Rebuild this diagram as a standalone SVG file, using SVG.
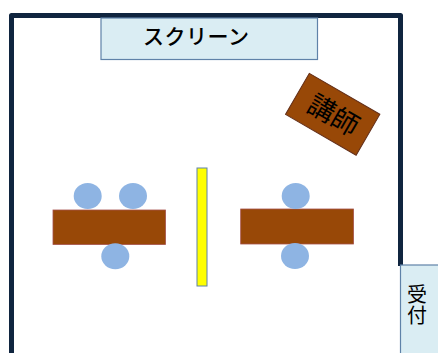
<svg xmlns="http://www.w3.org/2000/svg" width="438" height="353" viewBox="0 0 438 353">
<style>
.info{fill:#daedf3;stroke:#5f82a8;stroke-width:1.2}
.table{fill:#984807;stroke:#a5504a;stroke-width:.8}
.seat{fill:#8eb4e3}
text{font-family:"Noto Sans CJK JP","Noto Sans",sans-serif;fill:#000}
</style>
<rect width="438" height="353" fill="#fff"/>
<g id="room"><path d="M11.500 353V15.500H400.500V266" fill="none" stroke="#10253f" stroke-width="5" stroke-linejoin="round"/></g>
<g id="screen"><rect class="info" x="101" y="18" width="216.500" height="41.500"/><text x="143" y="44" font-size="21" font-weight="500" letter-spacing="0.500">スクリーン</text></g>
<g id="lecturer"><g transform="translate(332.700 114.300) rotate(30.100)"><rect x="-40.800" y="-23.700" width="81.600" height="47.400" fill="#984807" stroke="#632f1a" stroke-width="1"/><text x="1" y="10" font-size="27" text-anchor="middle">講師</text></g></g>
<g id="table-left"><rect class="table" x="53" y="210" width="112.500" height="34.500"/></g>
<g id="seat-l1"><ellipse class="seat" cx="87.700" cy="196" rx="14" ry="13"/></g>
<g id="seat-l2"><ellipse class="seat" cx="133" cy="196" rx="14" ry="13"/></g>
<g id="seat-l3"><ellipse class="seat" cx="115.300" cy="256.300" rx="14" ry="13"/></g>
<g id="partition"><rect x="197" y="168" width="10" height="118" fill="#ff0" stroke="#5f82a8" stroke-width="1"/></g>
<g id="table-right"><rect class="table" x="240.700" y="209" width="112.800" height="35"/></g>
<g id="seat-r1"><ellipse class="seat" cx="295.700" cy="196" rx="14" ry="13"/></g>
<g id="seat-r2"><ellipse class="seat" cx="295" cy="256" rx="14" ry="13"/></g>
<g id="reception"><rect class="info" x="400.500" y="265" width="45" height="95"/><text x="417" y="284" font-size="20" letter-spacing="1" writing-mode="vertical-rl">受付</text></g>
</svg>
